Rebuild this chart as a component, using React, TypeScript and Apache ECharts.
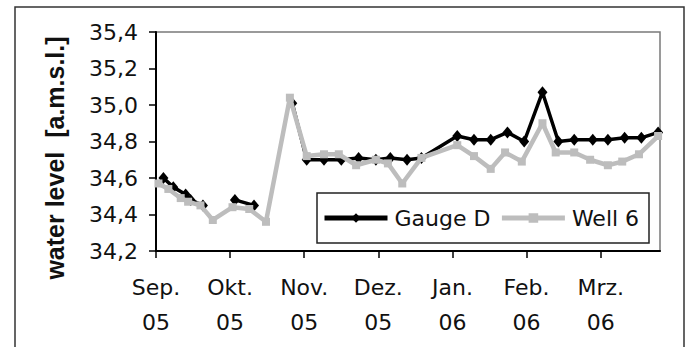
import React, { useEffect, useRef } from "react";
import * as echarts from "echarts";

// Month ticks (Sep 2005 .. Mar 2006)
const monthLabels = ["Sep.\n05", "Okt.\n05", "Nov.\n05", "Dez.\n05", "Jan.\n06", "Feb.\n06", "Mrz.\n06"];
const yTicks = [34.2, 34.4, 34.6, 34.8, 35.0, 35.2, 35.4];

// Gauge D readings (null = no reading, line is broken)
const gaugeDates = [
  "2005-09-04", "2005-09-08", "2005-09-13", "2005-09-15", "2005-09-20", "2005-09-24",
  "2005-10-03", "2005-10-11", "2005-10-16",
  "2005-10-27", "2005-11-02", "2005-11-09", "2005-11-16", "2005-11-23", "2005-11-30",
  "2005-12-06", "2005-12-13", "2005-12-19",
  "2006-01-03", "2006-01-10", "2006-01-17", "2006-01-24", "2006-01-31",
  "2006-02-07", "2006-02-13", "2006-02-19", "2006-02-26",
  "2006-03-04", "2006-03-11", "2006-03-18", "2006-03-25",
];
const gaugeLevels: (number | null)[] = [
  34.60, 34.55, 34.51, 34.48, 34.45, null,
  34.48, 34.45, null,
  35.01, 34.70, 34.70, 34.70, 34.71, 34.70,
  34.71, 34.70, 34.71,
  34.83, 34.81, 34.81, 34.85, 34.80,
  35.07, 34.80, 34.81, 34.81,
  34.81, 34.82, 34.82, 34.85,
];

// Well 6 readings
const wellDates = [
  "2005-09-02", "2005-09-06", "2005-09-11", "2005-09-14", "2005-09-19", "2005-09-24",
  "2005-10-02", "2005-10-09", "2005-10-16", "2005-10-26",
  "2005-11-02", "2005-11-09", "2005-11-15", "2005-11-22", "2005-11-30",
  "2005-12-05", "2005-12-11", "2005-12-19",
  "2006-01-03", "2006-01-10", "2006-01-17", "2006-01-23", "2006-01-30",
  "2006-02-07", "2006-02-12", "2006-02-19", "2006-02-25",
  "2006-03-04", "2006-03-10", "2006-03-17", "2006-03-25",
];
const wellLevels: (number | null)[] = [
  34.57, 34.54, 34.49, 34.47, 34.45, 34.37,
  34.44, 34.43, 34.36, 35.04,
  34.72, 34.73, 34.73, 34.67, 34.70,
  34.68, 34.57, 34.71,
  34.78, 34.72, 34.65, 34.74, 34.69,
  34.90, 34.74, 34.74, 34.70,
  34.67, 34.69, 34.73, 34.83,
];

// Position of a date in months after 1 Sep 2005 (each month gets equal width)
function monthPos(d: string): number {
  const [y, m, day] = d.split("-").map(Number);
  const idx = (y - 2005) * 12 + (m - 1) - 8;
  const days = new Date(Date.UTC(y, m, 0)).getUTCDate();
  return idx + (day - 1) / days;
}

function toSeries(dates: string[], levels: (number | null)[]) {
  return dates.map((d, i) => [monthPos(d), levels[i] === null ? "-" : levels[i]]);
}

const LABEL_FONT = "DejaVu Sans";
const GAUGE_COLOR = "#000";
const WELL_COLOR = "#bdbdbd";

export default function App() {
  const ref = useRef<HTMLDivElement>(null);

  useEffect(() => {
    document.body.style.margin = "0";
    if (!ref.current) return;
    const chart = echarts.init(ref.current, null, { renderer: "svg" });
    chart.setOption({
      animation: false,
      backgroundColor: "#fff",
      grid: {
        left: 156,
        top: 32,
        width: 504,
        height: 219,
        show: true,
        borderColor: "#7a7a7a",
        borderWidth: 1.5,
        backgroundColor: "transparent",
      },
      xAxis: {
        type: "value",
        min: 0,
        max: 6.8,
        interval: 1,
        splitLine: { show: false },
        axisLine: { lineStyle: { color: "#000", width: 2 } },
        axisTick: {
          length: 7,
          inside: false,
          lineStyle: { color: "#000", width: 1.5 },
          customValues: [0, 1, 2, 3, 4, 5, 6],
        },
        axisLabel: {
          customValues: [0, 1, 2, 3, 4, 5, 6],
          formatter: (v: number) => monthLabels[Math.round(v)] ?? "",
          margin: 19,
          fontFamily: LABEL_FONT,
          fontSize: 22,
          lineHeight: 35,
          color: "#111",
        },
      },
      yAxis: {
        type: "value",
        min: 34.2,
        max: 35.4,
        interval: 0.2,
        splitLine: { show: false },
        axisLine: { show: true, lineStyle: { color: "#000", width: 2 } },
        axisTick: { show: true, length: 7, lineStyle: { color: "#000", width: 1.5 } },
        axisLabel: {
          customValues: yTicks,
          formatter: (v: number) => v.toFixed(1).replace(".", ","),
          margin: 18,
          fontFamily: LABEL_FONT,
          fontSize: 22,
          color: "#111",
        },
      },
      legend: {
        data: [
          { name: "Gauge D", lineStyle: { width: 5, color: GAUGE_COLOR } },
          { name: "Well 6", lineStyle: { width: 5, color: WELL_COLOR } },
        ],
        left: 322,
        top: 207,
        padding: 0,
        itemWidth: 63,
        itemHeight: 12,
        itemGap: 9,
        textStyle: {
          fontFamily: LABEL_FONT,
          fontSize: 22,
          color: "#111",
          padding: [0, 0, 0, 2],
        },
      },
      graphic: [
        {
          type: "rect",
          z: -1,
          shape: { x: 15, y: 7, width: 669, height: 400 },
          style: { fill: "none", stroke: "#333", lineWidth: 1.5 },
        },
        {
          type: "rect",
          z: 1,
          shape: { x: 317, y: 193, width: 332, height: 50 },
          style: { fill: "#fff", stroke: "#222", lineWidth: 1.5 },
        },
        {
          type: "text",
          x: 55,
          y: 158,
          rotation: Math.PI / 2,
          style: {
            text: "water level  [a.m.s.l.]",
            font: "bold 25px 'Liberation Sans'",
            fill: "#111",
            align: "center",
            verticalAlign: "middle",
          },
        },
      ],
      series: [
        {
          name: "Gauge D",
          type: "line",
          data: toSeries(gaugeDates, gaugeLevels),
          connectNulls: false,
          symbol: "diamond",
          symbolSize: [10, 12],
          lineStyle: { color: GAUGE_COLOR, width: 3.5 },
          itemStyle: { color: GAUGE_COLOR },
          z: 2,
        },
        {
          name: "Well 6",
          type: "line",
          data: toSeries(wellDates, wellLevels),
          symbol: "rect",
          symbolSize: 8,
          lineStyle: { color: WELL_COLOR, width: 4.5 },
          itemStyle: { color: WELL_COLOR },
          z: 3,
        },
      ],
    });
    return () => chart.dispose();
  }, []);

  return <div ref={ref} style={{ width: 686, height: 347 }} />;
}
